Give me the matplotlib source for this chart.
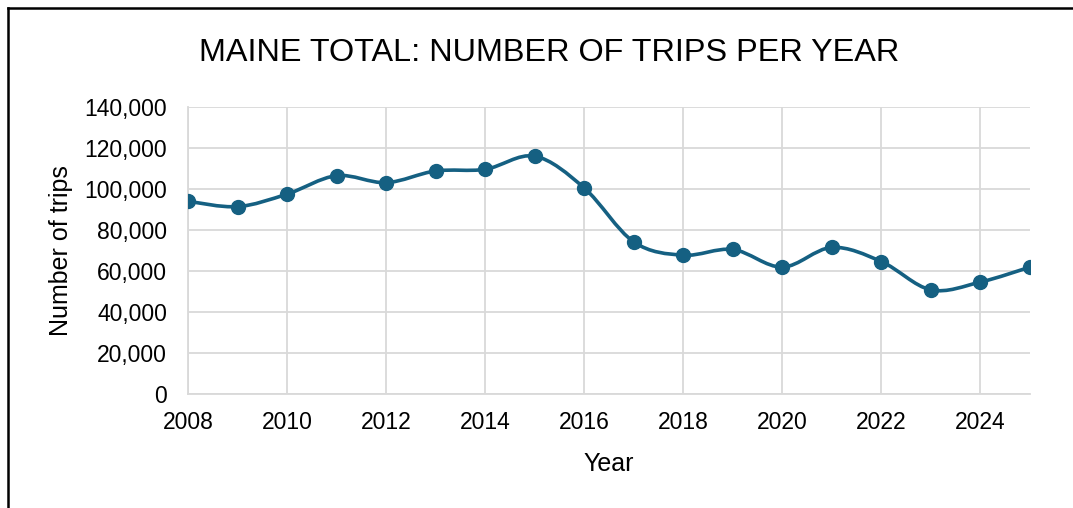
import numpy as np
import matplotlib
matplotlib.use('Agg')
import matplotlib.pyplot as plt
from matplotlib.path import Path
from matplotlib.patches import PathPatch
from matplotlib.lines import Line2D
from matplotlib.ticker import FuncFormatter

# Data
years = [2008, 2009, 2010, 2011, 2012, 2013, 2014, 2015, 2016,
         2017, 2018, 2019, 2020, 2021, 2022, 2023, 2024, 2025]
trips = [94000, 91400, 97500, 106500, 103100, 108800, 109600, 116000, 100500,
         74200, 67700, 70500, 61900, 71500, 64600, 50800, 54600, 61900]

title = 'MAINE TOTAL: NUMBER OF TRIPS PER YEAR'
xlabel = 'Year'
ylabel = 'Number of trips'

line_color = '#156082'
grid_color = '#d9d9d9'
plt.rcParams['font.family'] = ['Liberation Sans', 'DejaVu Sans']

fig = plt.figure(figsize=(10.73, 5.08), dpi=100)
ax = fig.add_axes([0.1752, 0.2244, 0.7847, 0.565])

# smoothed line (Excel-like bezier through the points)
x = np.array(years, dtype=float)
y = np.array(trips, dtype=float)
n = len(x)
verts = [(x[0], y[0])]
codes = [Path.MOVETO]
for i in range(n - 1):
    p0 = np.array([x[max(i - 1, 0)], y[max(i - 1, 0)]])
    p1 = np.array([x[i], y[i]])
    p2 = np.array([x[i + 1], y[i + 1]])
    p3 = np.array([x[min(i + 2, n - 1)], y[min(i + 2, n - 1)]])
    c1 = p1 + (p2 - p0) / 6
    c2 = p2 - (p3 - p1) / 6
    verts += [tuple(c1), tuple(c2), tuple(p2)]
    codes += [Path.CURVE4] * 3
ax.add_patch(PathPatch(Path(verts, codes), facecolor='none',
                       edgecolor=line_color, lw=2.6, zorder=3))
ax.plot(years, trips, 'o', color=line_color, markersize=10, zorder=4)

ax.set_xlim(2008, 2025)
ax.set_ylim(0, 140000)
ax.set_xticks(range(2008, 2026, 2))
ax.set_yticks(range(0, 140001, 20000))
ax.yaxis.set_major_formatter(FuncFormatter(lambda v, p: f'{int(v):,}'))
ax.grid(True, color=grid_color, lw=1.3)
ax.set_axisbelow(True)
for s in ['top', 'right']:
    ax.spines[s].set_visible(False)
for s in ['left', 'bottom']:
    ax.spines[s].set_color(grid_color)
    ax.spines[s].set_linewidth(1.3)
ax.tick_params(length=0, labelsize=16.5, colors='black')
ax.tick_params(axis='y', pad=15)
ax.tick_params(axis='x', pad=12)

ax.set_xlabel(xlabel, fontsize=18, labelpad=13)
ax.set_ylabel(ylabel, fontsize=18, labelpad=8)

fig.text(0.512, 0.895, title, ha='center', va='center', fontsize=23.3)

# frame lines of the original chart box
fig.add_artist(Line2D([8 / 1073, 1], [1 - 8 / 508, 1 - 8 / 508], color='black', lw=1.8))
fig.add_artist(Line2D([8 / 1073, 8 / 1073], [0, 1 - 8 / 508], color='black', lw=1.8))

fig.savefig('out.png', dpi=100)
